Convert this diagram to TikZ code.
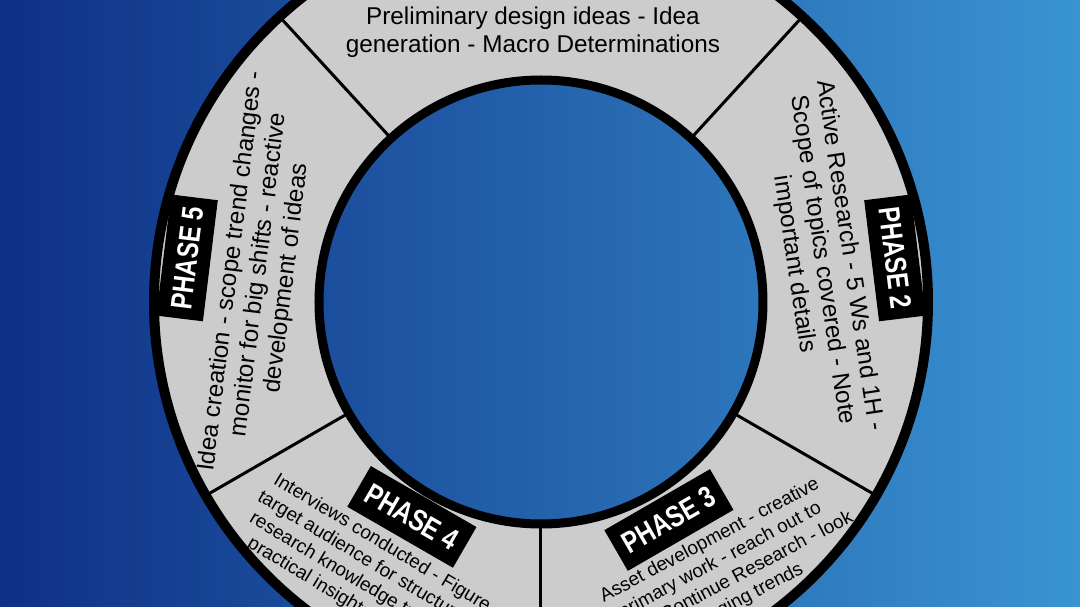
\documentclass[tikz,border=0pt]{standalone}
\usepackage{fontspec}
\setmainfont{Liberation Sans}
\newfontfamily\phasefont[FakeStretch=0.8]{Liberation Sans}
\definecolor{bgleft}{RGB}{14,48,134}
\definecolor{bgright}{RGB}{58,148,210}
\definecolor{ringgray}{RGB}{204,204,204}
\tikzset{
  phaselabel/.style={fill=black,text=white,inner sep=0pt,
    font=\phasefont\bfseries\fontsize{30}{30}\selectfont,
    minimum width=122pt,minimum height=47pt},
  bigtext/.style={align=center,inner sep=0pt,font=\fontsize{24.3}{28}\selectfont},
  smalltext/.style={align=center,inner sep=0pt,font=\fontsize{19}{22.5}\selectfont},
}
\begin{document}
\begin{tikzpicture}[x=1pt,y=1pt]
\useasboundingbox (-541,-305) rectangle (539,302);
\clip (-541,-305) rectangle (539,302);
\shade[left color=bgleft,right color=bgright] (-541,-305) rectangle (539,302);
% ring
\fill[ringgray,even odd rule] (0,0) circle (387) (0,0) circle (222);
\foreach \a in {47.5,132.5,210,270,330}
  \draw[line width=3pt] (\a:222) -- (\a:387);
\draw[line width=9pt] (0,0) circle (222);
\draw[line width=10pt] (0,0) circle (387);
% phase texts
\node[bigtext] (p1text) at (-8,270) {Preliminary design ideas - Idea\\generation - Macro Determinations};
\node[bigtext,rotate=-81.5] (p2text) at (8.5:284) {Active Research - 5 Ws and 1H -\\Scope of topics covered - Note\\important details};
\node[smalltext,rotate=28] (p3text) at (-55.5:326) {Asset development - creative\\primary work - reach out to\\them - Continue Research - look\\emerging trends};
\node[smalltext,rotate=-31] (p4text) at (236.9:323) {Interviews conducted - Figure\\target audience for structured -\\research knowledge transfer -\\practical insights for design};
\node[bigtext,rotate=83] (p5text) at (174.5:283) {Idea creation - scope trend changes -\\monitor for big shifts - reactive\\development of ideas};
% phase labels
\node[phaselabel,rotate=-83] (p2label) at (7.1:356.7) {PHASE 2};
\node[phaselabel,rotate=30] (p3label) at (-59.6:252.8) {PHASE 3};
\node[phaselabel,rotate=-30] (p4label) at (239:250.7) {PHASE 4};
\node[phaselabel,rotate=83] (p5label) at (172.9:356.7) {PHASE 5};
\end{tikzpicture}
\end{document}
